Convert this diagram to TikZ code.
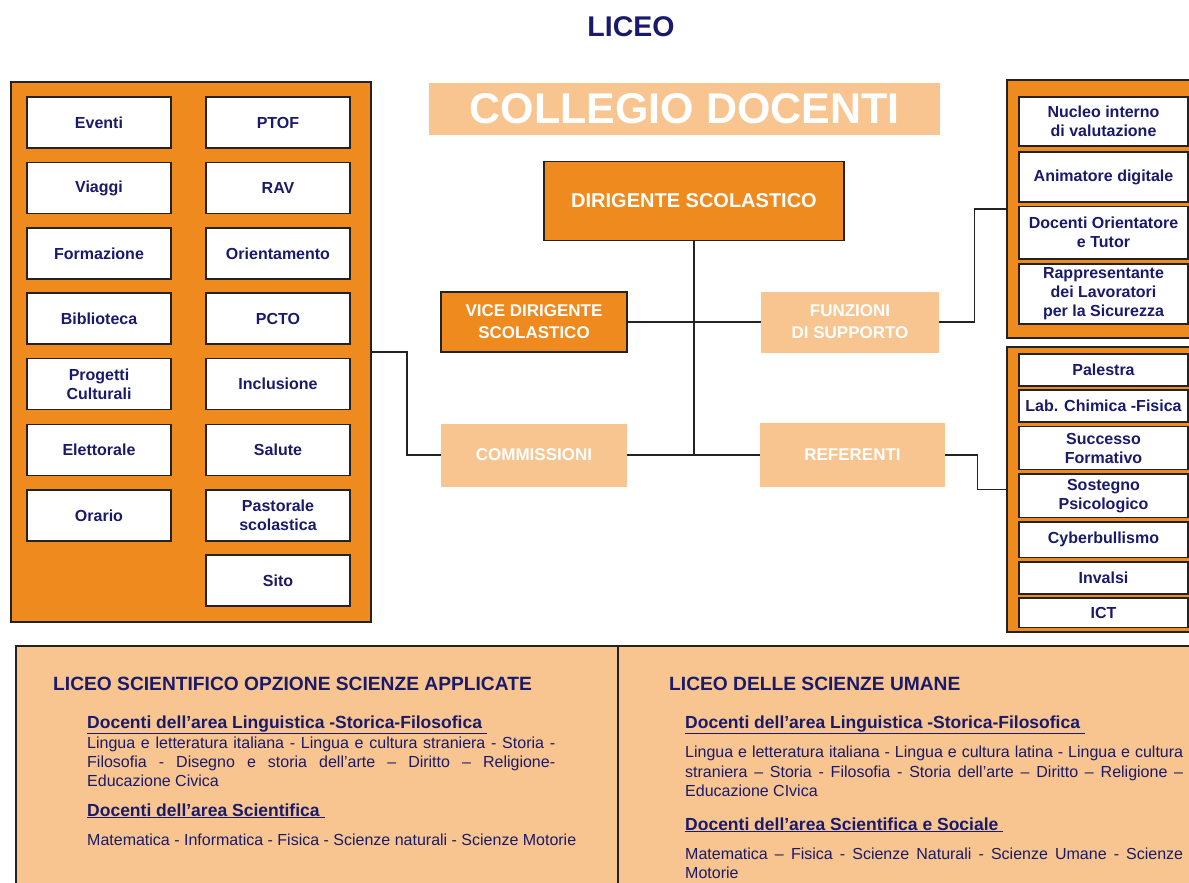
\documentclass[tikz,border=0pt]{standalone}
\usepackage{fontspec}
\setmainfont{Liberation Sans}
\usetikzlibrary{calc}

\definecolor{arancio}{RGB}{239,138,30}
\definecolor{pesca}{RGB}{248,197,144}
\definecolor{blunotte}{RGB}{26,26,106}
\definecolor{bordo}{RGB}{35,35,35}

\begin{document}
\begin{tikzpicture}[x=1pt, y=-1pt,
  voce/.style={draw=bordo, line width=1.6pt, fill=white, text=blunotte, align=center, inner sep=0pt,
    font=\fontsize{16}{19}\selectfont\bfseries},
  pannello/.style={draw=bordo, line width=1.4pt, fill=arancio, inner sep=0pt},
  capo/.style={draw=bordo, line width=1.6pt, fill=arancio, text=white, align=center, inner sep=0pt},
  ufficio/.style={fill=pesca, text=white, align=center, inner sep=0pt,
    font=\fontsize{17}{22}\selectfont\bfseries},
  filo/.style={draw=bordo, line width=1.4pt},
  corpo/.style={anchor=base west, inner sep=0pt, text=blunotte, font=\fontsize{16}{19}\selectfont},
  titolo/.style={anchor=base west, inner sep=0pt, text=blunotte, font=\fontsize{17.5}{20}\selectfont\bfseries}]

\useasboundingbox (0,0) rectangle (1189,883);
\clip (0,0) rectangle (1189,883);

\node[inner sep=0pt, text=blunotte, font=\fontsize{28.5}{30}\selectfont\bfseries, anchor=base] (liceo) at (631,37) {LICEO};

% commissioni a sinistra
\node[pannello, minimum width=360pt, minimum height=540pt] (sx) at (191,352) {};
\foreach \name/\y/\txt in {eventi/122.5/Eventi, viaggi/188/Viaggi, formazione/253.5/Formazione,
    biblioteca/318.5/Biblioteca, progetti/384/Progetti\\Culturali, elettorale/450/Elettorale, orario/515.5/Orario}
  \node[voce, minimum width=144pt, minimum height=51pt] (\name) at (99,\y) {\txt};
\foreach \name/\y/\txt in {ptof/122.5/PTOF, rav/188/RAV, orientamento/253.5/Orientamento, pcto/318.5/PCTO,
    inclusione/384/Inclusione, salute/450/Salute, pastorale/515.5/Pastorale\\scolastica, sito/580.5/Sito}
  \node[voce, minimum width=144pt, minimum height=51pt] (\name) at (278,\y) {\txt};

% centro
\node[fill=pesca, text=white, inner sep=0pt, minimum width=511pt, minimum height=51pt,
  font=\fontsize{43}{44}\selectfont\bfseries] (collegio) at (684.5,109) {COLLEGIO DOCENTI};
\node[capo, minimum width=300pt, minimum height=79pt, font=\fontsize{20}{24}\selectfont\bfseries] (dir) at (694,201) {DIRIGENTE SCOLASTICO};
\node[capo, minimum width=186pt, minimum height=60pt, font=\fontsize{17}{22}\selectfont\bfseries] (vice) at (534,322) {VICE DIRIGENTE\\SCOLASTICO};
\node[ufficio, minimum width=178pt, minimum height=61pt] (funz) at (850,322) {FUNZIONI\\DI SUPPORTO};
\node[ufficio, minimum width=186pt, minimum height=63pt] (comm) at (534,455) {COMMISSIONI};
\node[ufficio, minimum width=185pt, minimum height=64pt] (ref) at (852.5,455) {REFERENTI};

% funzioni e referenti a destra
\node[pannello, minimum width=200pt, minimum height=258pt] (su) at (1107,209) {};
\foreach \name/\y/\h/\txt in {nucleo/121.5/49/Nucleo interno\\di valutazione, animatore/177/50/Animatore digitale,
    tutor/232.75/52.5/Docenti Orientatore\\e Tutor, rls/294/60/Rappresentante\\dei Lavoratori\\per la Sicurezza}
  \node[voce, minimum width=169pt, minimum height=\h pt] (\name) at (1103.5,\y) {\txt};
\node[pannello, minimum width=200pt, minimum height=285pt] (giu) at (1107,489.5) {};
\foreach \name/\y/\h/\txt in {palestra/370/32/Palestra, lab/406/32/Lab. Chimica -Fisica,
    successo/448/43/Successo\\Formativo, sostegno/495.75/43.5/Sostegno\\Psicologico,
    cyber/539.75/35.5/Cyberbullismo, invalsi/578/32/Invalsi, ict/612.75/29.5/ICT}
  \node[voce, minimum width=169pt, minimum height=\h pt] (\name) at (1103.5,\y) {\txt};

% collegamenti
\draw[filo] (dir.south) -- (dir.south |- comm.east);
\draw[filo] (vice.east) -- (funz.west);
\draw[filo] (comm.east) -- (ref.west);
\draw[filo] (comm.west) -- ++(-34,0) |- (sx.east);
\draw[filo] (funz.east) -- ++(35,0) |- (su.west);
\draw[filo] (ref.east) -- ++(32,0) |- (giu.west);

% indirizzi
\node[draw=bordo, line width=1.4pt, fill=pesca, inner sep=0pt, minimum width=1190pt, minimum height=260pt] (indirizzi) at (611,776) {};
\draw[filo] (618,646) -- (618,900);

\node[titolo, font=\fontsize{19.2}{22}\selectfont\bfseries] (scienze) at (53,690) {LICEO SCIENTIFICO OPZIONE SCIENZE APPLICATE};
\node[titolo] (sling) at (87,728) {\underline{Docenti dell’area Linguistica -Storica-Filosofica\ }};
\node[corpo] (sl1) at (87,748) {\makebox[468pt][s]{Lingua e letteratura italiana - Lingua e cultura straniera - Storia -}};
\node[corpo] (sl2) at (87,767) {\makebox[468pt][s]{Filosofia - Disegno e storia dell’arte – Diritto – Religione-}};
\node[corpo] (sl3) at (87,786) {Educazione Civica};
\node[titolo] (sscie) at (87,816) {\underline{Docenti dell’area Scientifica\ }};
\node[corpo] (ss1) at (87,845) {Matematica - Informatica - Fisica - Scienze naturali - Scienze Motorie};

\node[titolo, font=\fontsize{19.2}{22}\selectfont\bfseries] (umane) at (669,690) {LICEO DELLE SCIENZE UMANE};
\node[titolo] (uling) at (685,728) {\underline{Docenti dell’area Linguistica -Storica-Filosofica\ }};
\node[corpo] (ul1) at (685,757) {\makebox[498pt][s]{Lingua e letteratura italiana - Lingua e cultura latina - Lingua e cultura}};
\node[corpo] (ul2) at (685,777) {\makebox[498pt][s]{straniera – Storia - Filosofia - Storia dell’arte – Diritto – Religione –}};
\node[corpo] (ul3) at (685,796) {Educazione CIvica};
\node[titolo] (uscie) at (685,830) {\underline{Docenti dell’area Scientifica e Sociale\ }};
\node[corpo] (us1) at (685,859) {\makebox[498pt][s]{Matematica – Fisica - Scienze Naturali - Scienze Umane - Scienze}};
\node[corpo] (us2) at (685,878) {Motorie};

\end{tikzpicture}
\end{document}
